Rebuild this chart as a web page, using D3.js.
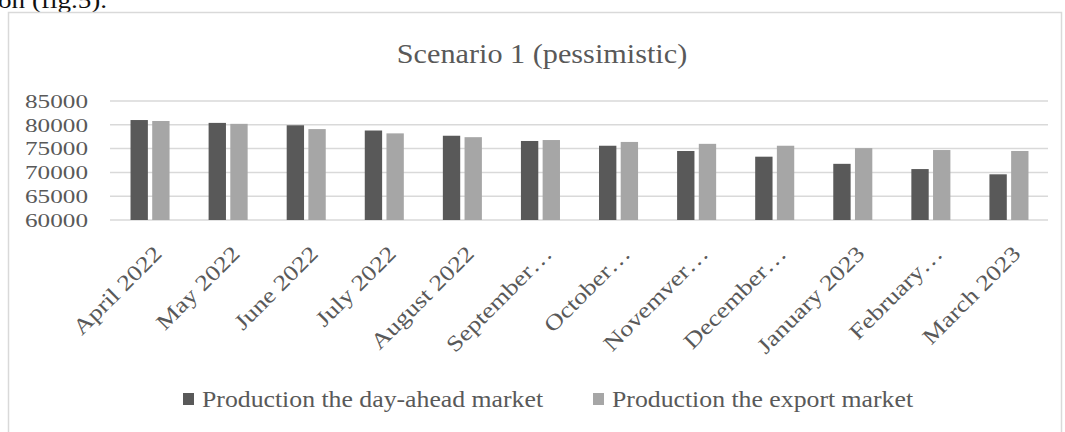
<!DOCTYPE html>
<html>
<head>
<meta charset="utf-8">
<script src="https://cdn.jsdelivr.net/npm/d3@7"></script>
<style>
html,body{margin:0;padding:0;background:#fff;overflow:hidden;}
svg{display:block;}
</style>
</head>
<body>
<svg id="chart" width="1065" height="432"></svg>
<script>
const categories = ["April 2022","May 2022","June 2022","July 2022","August 2022","September…","October…","Novemver…","December…","January 2023","February…","March 2023"];
const dayAhead = [81000, 80400, 79900, 78800, 77700, 76600, 75600, 74500, 73300, 71800, 70700, 69600];
const exportMkt = [80800, 80200, 79100, 78200, 77400, 76800, 76400, 76000, 75600, 75100, 74700, 74500];
const seriesNames = ["Production the day-ahead market", "Production the export market"];
const yTicks = [60000, 65000, 70000, 75000, 80000, 85000];
const title = "Scenario 1 (pessimistic)";

const colors = ["#595959", "#a6a6a6"];
const serif = "'Liberation Serif','Times New Roman',serif";

const svg = d3.select("#chart");
svg.append("rect").attr("width",1065).attr("height",432).attr("fill","#fff");

// cropped text from surrounding document
svg.append("text").attr("transform","translate(-2,8) scale(1.13,1)")
  .attr("font-family",serif).attr("font-size",24).attr("fill","#111")
  .text("on (fig.5).");

// chart border
svg.append("rect").attr("x",8.5).attr("y",12.5).attr("width",1053).attr("height",440)
  .attr("fill","none").attr("stroke","#d9d9d9").attr("stroke-width",1.5);

const x0 = d3.scaleBand().domain(categories).range([111,1048]).paddingInner(0.5).paddingOuter(0.25);
const x1 = d3.scaleBand().domain([0,1]).range([0, x0.bandwidth()]).paddingInner(0.2);
const y = d3.scaleLinear().domain([60000,85000]).range([220,101]);

// gridlines
svg.append("g").selectAll("line").data(yTicks).join("line")
  .attr("x1",110).attr("x2",1048)
  .attr("y1",d=>y(d)).attr("y2",d=>y(d))
  .attr("stroke","#d9d9d9").attr("stroke-width",1.5);

// y labels
svg.append("g").selectAll("text").data(yTicks).join("text")
  .attr("transform",d=>`translate(88,${y(d)}) scale(1.28,1)`)
  .attr("text-anchor","end").attr("dy","0.35em")
  .attr("font-family",serif).attr("font-size",19.7).attr("fill","#595959")
  .text(d=>d);

// bars
const series = [dayAhead, exportMkt];
series.forEach((vals,si)=>{
  svg.append("g").selectAll("rect").data(vals).join("rect")
    .attr("x",(d,i)=>x0(categories[i]) + x1(si))
    .attr("width",x1.bandwidth())
    .attr("y",d=>y(d))
    .attr("height",d=>y(60000)-y(d))
    .attr("fill",colors[si]);
});

// x labels
svg.append("g").selectAll("text").data(categories).join("text")
  .attr("transform",d=>`translate(${x0(d)+x0.bandwidth()/2+13},255) rotate(-45) scale(1.2,1)`)
  .attr("text-anchor","end")
  .attr("font-family",serif).attr("font-size",22).attr("fill","#595959")
  .text(d=>d);

// title
svg.append("text").attr("transform","translate(542,63) scale(1.12,1)")
  .attr("text-anchor","middle")
  .attr("font-family",serif).attr("font-size",27).attr("fill","#595959")
  .text(title);

// legend
const legendX = [183, 593];
seriesNames.forEach((name,i)=>{
  svg.append("rect").attr("x",legendX[i]).attr("y",393).attr("width",11).attr("height",12).attr("fill",colors[i]);
  svg.append("text").attr("transform",`translate(${legendX[i]+19},407) scale(1.135,1)`)
    .attr("font-family",serif).attr("font-size",22.7).attr("fill","#595959")
    .text(name);
});
</script>
</body>
</html>
